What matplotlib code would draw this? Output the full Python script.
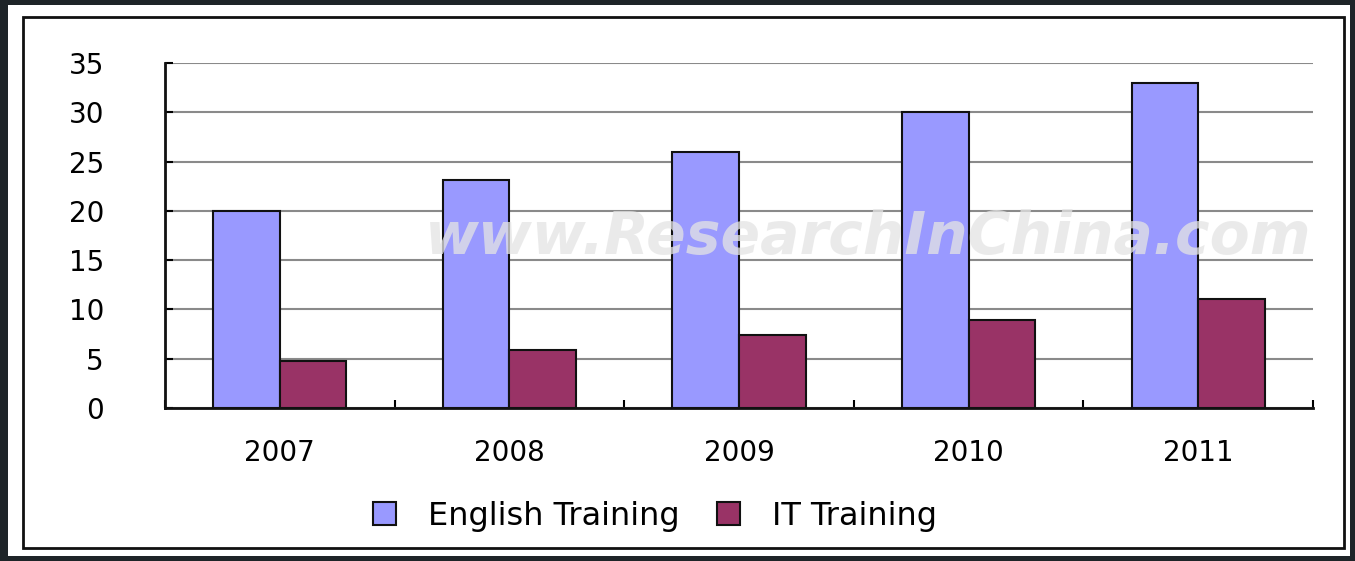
import numpy as np
import matplotlib.pyplot as plt
from matplotlib.patches import Rectangle

# data
years = ["2007", "2008", "2009", "2010", "2011"]
english = [20.0, 23.1, 26.0, 30.0, 33.0]
it = [4.8, 5.9, 7.4, 8.9, 11.1]
series_names = ["English Training", "IT Training"]
yticks = [0, 5, 10, 15, 20, 25, 30, 35]

W, H = 1355, 561
fig = plt.figure(figsize=(W / 100, H / 100), dpi=100, facecolor="#1e2428")

# white card + black frame
fig.patches.append(Rectangle((8 / W, 5 / H), (1350 - 8) / W, (556 - 5) / H,
                             transform=fig.transFigure, facecolor="white",
                             edgecolor="none", zorder=-10))
fig.patches.append(Rectangle((23 / W, 1 - 548 / H), (1344 - 23) / W, (548 - 17) / H,
                             transform=fig.transFigure, facecolor="none",
                             edgecolor="#111111", lw=2, zorder=-9))

ax = fig.add_axes([165 / W, 1 - 408 / H, (1313 - 165) / W, (408 - 63) / H])
ax.set_facecolor("none")

x = np.arange(len(years))
bw = 0.29
ax.bar(x, english, width=-bw, align="edge", color="#9999FF",
       edgecolor="#111111", lw=1.5, label=series_names[0], zorder=3)
ax.bar(x, it, width=bw, align="edge", color="#993366",
       edgecolor="#111111", lw=1.5, label=series_names[1], zorder=3)

ax.set_xlim(-0.5, len(years) - 0.5)
ax.set_ylim(0, 35)
ax.set_yticks(yticks)
ax.yaxis.grid(True, color="#8a8a8a", lw=1.5, zorder=1)
ax.set_axisbelow(True)

# category boundaries as major ticks, labels at centres
ax.set_xticks(np.arange(-0.5, len(years), 1.0))
ax.set_xticklabels([])
ax.set_xticks(x, minor=True)
ax.set_xticklabels(years, minor=True)
ax.tick_params(axis="x", which="major", direction="in", length=6, width=1.5)
ax.tick_params(axis="x", which="minor", length=0, pad=22, labelsize=20)
ax.tick_params(axis="y", direction="in", length=6, width=1.5, pad=44, labelsize=20)

for s in ["top", "right"]:
    ax.spines[s].set_visible(False)
for s in ["left", "bottom"]:
    ax.spines[s].set_linewidth(2)
    ax.spines[s].set_color("#111111")

# watermark
ax.text(0.613, 0.495, "www.ResearchInChina.com", transform=ax.transAxes,
        ha="center", va="center", fontsize=42, fontweight="bold", style="italic",
        color="#e4e4e4", alpha=0.75, zorder=5)

fig.legend(loc="center", bbox_to_anchor=(655 / W, 1 - 516 / H), ncol=2,
           frameon=False, fontsize=23, handlelength=0.7, handleheight=0.7,
           handletextpad=1.0, columnspacing=1.2)

fig.savefig("out.png", dpi=100, facecolor=fig.get_facecolor())
